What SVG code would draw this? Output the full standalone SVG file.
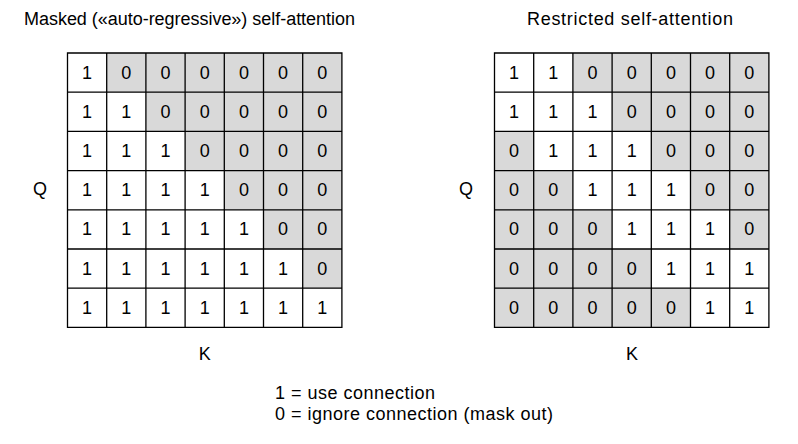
<svg xmlns="http://www.w3.org/2000/svg" width="798" height="444" viewBox="0 0 798 444">
<style>
text{font-family:"Liberation Sans",Arial,sans-serif;fill:#000}
.t{font-size:18px}
.d{font-size:18px;text-anchor:middle;dominant-baseline:central}
.lab{font-size:18px;text-anchor:middle;dominant-baseline:central}
.gray{fill:#d9d9d9;stroke:none}
.grid{fill:none;stroke:#000;stroke-width:1.3}
</style>
<rect width="798" height="444" fill="#fff"/>
<text class="t" x="24" y="25" textLength="331">Masked («auto-regressive») self-attention</text>
<text class="t" x="527" y="25" textLength="206">Restricted self-attention</text>

<g id="masked-matrix">
<path class="gray" d="M106.7,53H341.9V288.2H302.7V249H263.5V209.8H224.3V170.6H185.1V131.4H145.9V92.2H106.7Z"/>
<path class="grid" d="M67.5,53H341.9V327.4H67.5Z M106.7,53V327.4 M145.9,53V327.4 M185.1,53V327.4 M224.3,53V327.4 M263.5,53V327.4 M302.7,53V327.4 M67.5,92.2H341.9 M67.5,131.4H341.9 M67.5,170.6H341.9 M67.5,209.8H341.9 M67.5,249H341.9 M67.5,288.2H341.9"/>
<g transform="translate(0,72.6)"><text class="d" x="87.1">1</text><text class="d" x="126.3">0</text><text class="d" x="165.5">0</text><text class="d" x="204.7">0</text><text class="d" x="243.9">0</text><text class="d" x="283.1">0</text><text class="d" x="322.3">0</text></g>
<g transform="translate(0,111.8)"><text class="d" x="87.1">1</text><text class="d" x="126.3">1</text><text class="d" x="165.5">0</text><text class="d" x="204.7">0</text><text class="d" x="243.9">0</text><text class="d" x="283.1">0</text><text class="d" x="322.3">0</text></g>
<g transform="translate(0,151)"><text class="d" x="87.1">1</text><text class="d" x="126.3">1</text><text class="d" x="165.5">1</text><text class="d" x="204.7">0</text><text class="d" x="243.9">0</text><text class="d" x="283.1">0</text><text class="d" x="322.3">0</text></g>
<g transform="translate(0,190.2)"><text class="d" x="87.1">1</text><text class="d" x="126.3">1</text><text class="d" x="165.5">1</text><text class="d" x="204.7">1</text><text class="d" x="243.9">0</text><text class="d" x="283.1">0</text><text class="d" x="322.3">0</text></g>
<g transform="translate(0,229.4)"><text class="d" x="87.1">1</text><text class="d" x="126.3">1</text><text class="d" x="165.5">1</text><text class="d" x="204.7">1</text><text class="d" x="243.9">1</text><text class="d" x="283.1">0</text><text class="d" x="322.3">0</text></g>
<g transform="translate(0,268.6)"><text class="d" x="87.1">1</text><text class="d" x="126.3">1</text><text class="d" x="165.5">1</text><text class="d" x="204.7">1</text><text class="d" x="243.9">1</text><text class="d" x="283.1">1</text><text class="d" x="322.3">0</text></g>
<g transform="translate(0,307.8)"><text class="d" x="87.1">1</text><text class="d" x="126.3">1</text><text class="d" x="165.5">1</text><text class="d" x="204.7">1</text><text class="d" x="243.9">1</text><text class="d" x="283.1">1</text><text class="d" x="322.3">1</text></g>
<text class="lab" x="40" y="189">Q</text>
<text class="lab" x="204.7" y="354">K</text>
</g>

<g id="restricted-matrix">
<path class="gray" d="M572.9,53H768.9V249H729.7V209.8H690.5V170.6H651.3V131.4H612.1V92.2H572.9Z"/>
<path class="gray" d="M494.5,131.4H533.7V170.6H572.9V209.8H612.1V249H651.3V288.2H690.5V327.4H494.5Z"/>
<path class="grid" d="M494.5,53H768.9V327.4H494.5Z M533.7,53V327.4 M572.9,53V327.4 M612.1,53V327.4 M651.3,53V327.4 M690.5,53V327.4 M729.7,53V327.4 M494.5,92.2H768.9 M494.5,131.4H768.9 M494.5,170.6H768.9 M494.5,209.8H768.9 M494.5,249H768.9 M494.5,288.2H768.9"/>
<g transform="translate(0,72.6)"><text class="d" x="514.1">1</text><text class="d" x="553.3">1</text><text class="d" x="592.5">0</text><text class="d" x="631.7">0</text><text class="d" x="670.9">0</text><text class="d" x="710.1">0</text><text class="d" x="749.3">0</text></g>
<g transform="translate(0,111.8)"><text class="d" x="514.1">1</text><text class="d" x="553.3">1</text><text class="d" x="592.5">1</text><text class="d" x="631.7">0</text><text class="d" x="670.9">0</text><text class="d" x="710.1">0</text><text class="d" x="749.3">0</text></g>
<g transform="translate(0,151)"><text class="d" x="514.1">0</text><text class="d" x="553.3">1</text><text class="d" x="592.5">1</text><text class="d" x="631.7">1</text><text class="d" x="670.9">0</text><text class="d" x="710.1">0</text><text class="d" x="749.3">0</text></g>
<g transform="translate(0,190.2)"><text class="d" x="514.1">0</text><text class="d" x="553.3">0</text><text class="d" x="592.5">1</text><text class="d" x="631.7">1</text><text class="d" x="670.9">1</text><text class="d" x="710.1">0</text><text class="d" x="749.3">0</text></g>
<g transform="translate(0,229.4)"><text class="d" x="514.1">0</text><text class="d" x="553.3">0</text><text class="d" x="592.5">0</text><text class="d" x="631.7">1</text><text class="d" x="670.9">1</text><text class="d" x="710.1">1</text><text class="d" x="749.3">0</text></g>
<g transform="translate(0,268.6)"><text class="d" x="514.1">0</text><text class="d" x="553.3">0</text><text class="d" x="592.5">0</text><text class="d" x="631.7">0</text><text class="d" x="670.9">1</text><text class="d" x="710.1">1</text><text class="d" x="749.3">1</text></g>
<g transform="translate(0,307.8)"><text class="d" x="514.1">0</text><text class="d" x="553.3">0</text><text class="d" x="592.5">0</text><text class="d" x="631.7">0</text><text class="d" x="670.9">0</text><text class="d" x="710.1">1</text><text class="d" x="749.3">1</text></g>
<text class="lab" x="466" y="189">Q</text>
<text class="lab" x="632" y="354">K</text>
</g>

<g id="legend">
<text class="t" x="275" y="399" textLength="160">1 = use connection</text>
<text class="t" x="275" y="420" textLength="278">0 = ignore connection (mask out)</text>
</g>
</svg>
